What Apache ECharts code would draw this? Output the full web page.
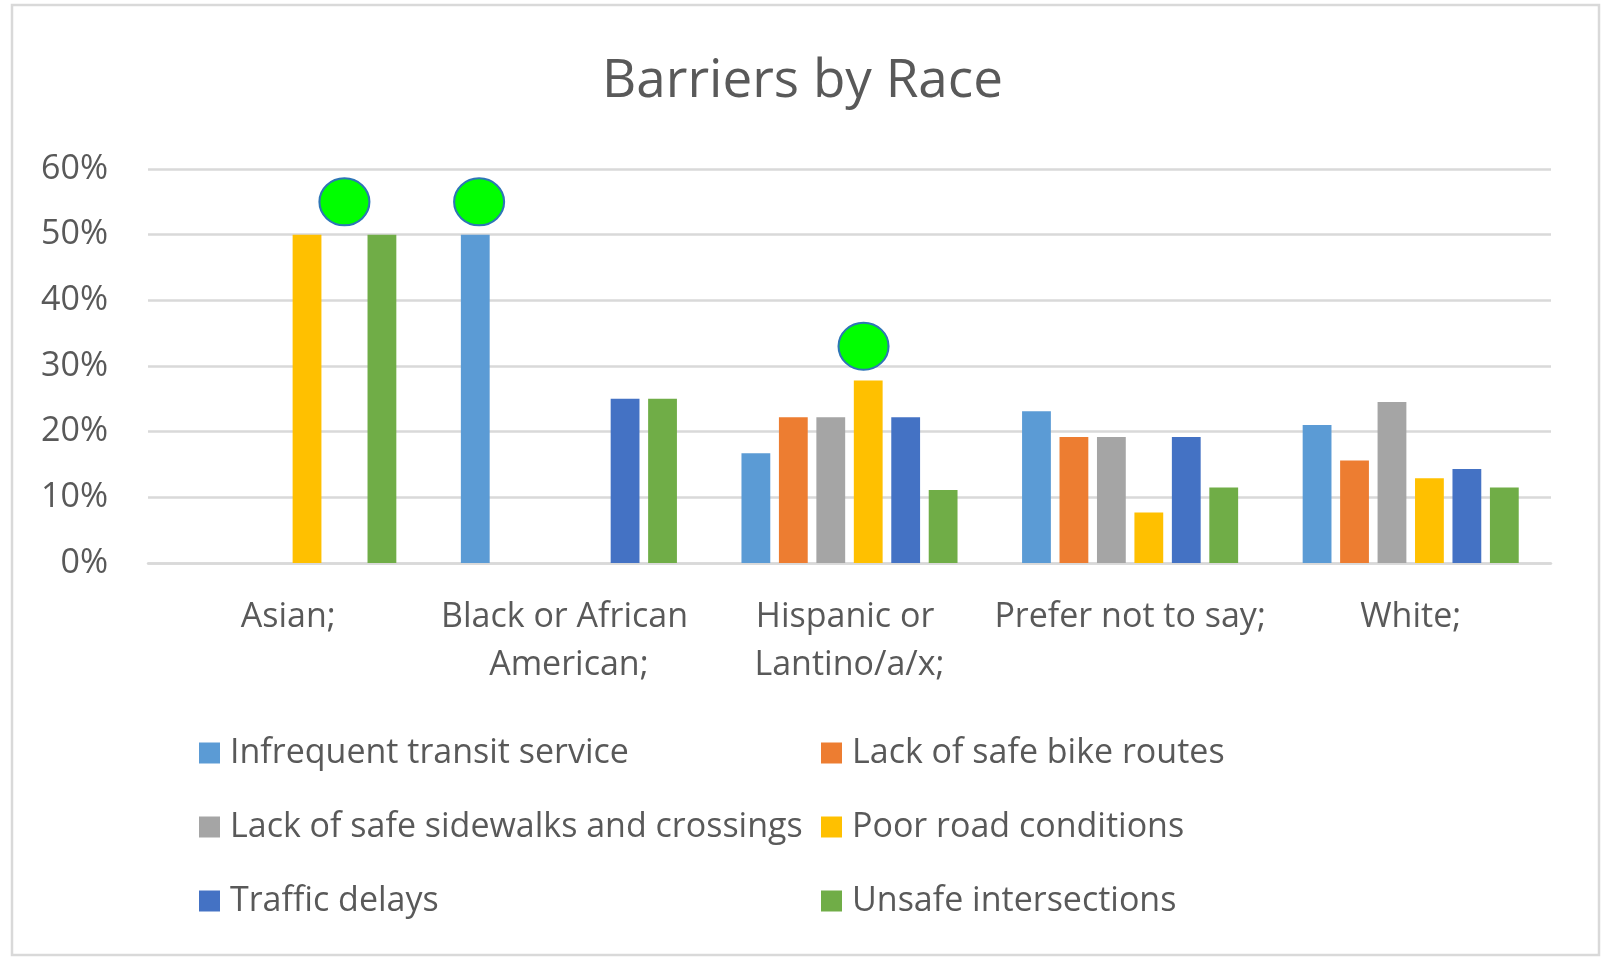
<!DOCTYPE html>
<html>
<head>
<meta charset="utf-8">
<script src="https://cdn.jsdelivr.net/npm/echarts@6/dist/echarts.min.js"></script>
<style>
  html, body { margin: 0; padding: 0; background: #fff; }
  #chart { width: 1605px; height: 957px; }
</style>
</head>
<body>
<div id="chart"></div>
<script>
	var categories = ['Asian;', 'Black or African American;', 'Hispanic or Lantino/a/x;', 'Prefer not to say;', 'White;'];
	var seriesNames = ['Infrequent transit service', 'Lack of safe bike routes', 'Lack of safe sidewalks and crossings',
		'Poor road conditions', 'Traffic delays', 'Unsafe intersections'];
	var colors = ['#5B9BD5', '#ED7D31', '#A5A5A5', '#FFC000', '#4472C4', '#70AD47'];

	var transit = [0, 0.50, 0.167, 0.231, 0.210];
	var bikeRoutes = [0, 0, 0.222, 0.192, 0.156];
	var sidewalks = [0, 0, 0.222, 0.192, 0.245];
	var roadConditions = [0.50, 0, 0.278, 0.077, 0.129];
	var trafficDelays = [0, 0.25, 0.222, 0.192, 0.143];
	var intersections = [0.50, 0.25, 0.111, 0.115, 0.115];

	// green circle highlights: [category position, value]
	var highlights = [[0.2, 0.55], [0.68, 0.55], [2.05, 0.33]];

	var yTicks = [0, 0.1, 0.2, 0.3, 0.4, 0.5, 0.6];

	var values = [transit, bikeRoutes, sidewalks, roadConditions, trafficDelays, intersections];
	var font = 'Open Sans';
	var textColor = '#595959';

	var chart = echarts.init(document.getElementById('chart'));

	var series = seriesNames.map(function(name, i) {
		return {
			name: name,
			type: 'bar',
			data: values[i],
			itemStyle: { color: colors[i] },
			barGap: '30%',
			barCategoryGap: '23%'
		};
	});
	series.push({
		name: 'highlight',
		type: 'scatter',
		xAxisIndex: 1,
		data: highlights,
		symbol: 'circle',
		symbolSize: [50, 47],
		itemStyle: { color: '#00FF00', borderColor: '#2E75B6', borderWidth: 2, opacity: 1 },
		z: 5
	});

	var legendCommon = {
		orient: 'vertical',
		padding: 0,
		itemWidth: 21,
		itemHeight: 21,
		itemGap: 34,
		icon: 'rect',
		textStyle: { fontFamily: font, fontSize: 34, color: textColor, lineHeight: 40, padding: [0, 0, 0, 5] }
	};

	option = {
		animation: false,
		backgroundColor: '#fff',
		title: {
			text: 'Barriers by Race',
			left: 'center',
			top: 55,
			padding: 0,
			textStyle: { fontFamily: font, fontSize: 53, fontWeight: 'normal', color: textColor }
		},
		graphic: [{
			type: 'rect',
			shape: { x: 12, y: 5, width: 1587, height: 950 },
			style: { fill: null, stroke: '#D9D9D9', lineWidth: 2.5 },
			silent: true
		}],
		legend: [
			Object.assign({ left: 199, top: 733, data: [seriesNames[0], seriesNames[2], seriesNames[4]] }, legendCommon),
			Object.assign({ left: 821, top: 733, data: [seriesNames[1], seriesNames[3], seriesNames[5]] }, legendCommon)
		],
		grid: { left: 148, right: 54, top: 169, bottom: 394, containLabel: false },
		xAxis: [{
			type: 'category',
			data: categories,
			axisTick: { show: false },
			axisLine: { lineStyle: { color: '#D9D9D9', width: 2.5 } },
			axisLabel: {
				interval: 0,
				margin: 30,
				fontFamily: font,
				fontSize: 34,
				lineHeight: 48,
				color: textColor,
				width: 285,
				overflow: 'break'
			}
		}, {
			type: 'value',
			min: -0.5,
			max: 4.5,
			show: false
		}],
		yAxis: {
			type: 'value',
			min: yTicks[0],
			max: yTicks[yTicks.length - 1],
			interval: 0.1,
			axisLine: { show: false },
			axisTick: { show: false },
			splitLine: { lineStyle: { color: '#D9D9D9', width: 2.5 } },
			axisLabel: {
				margin: 40,
				fontFamily: font,
				fontSize: 34,
				color: textColor,
				formatter: function(v) { return Math.round(v * 100) + '%'; }
			}
		},
		series: series
	};

	chart.setOption(option);
</script>
</body>
</html>
